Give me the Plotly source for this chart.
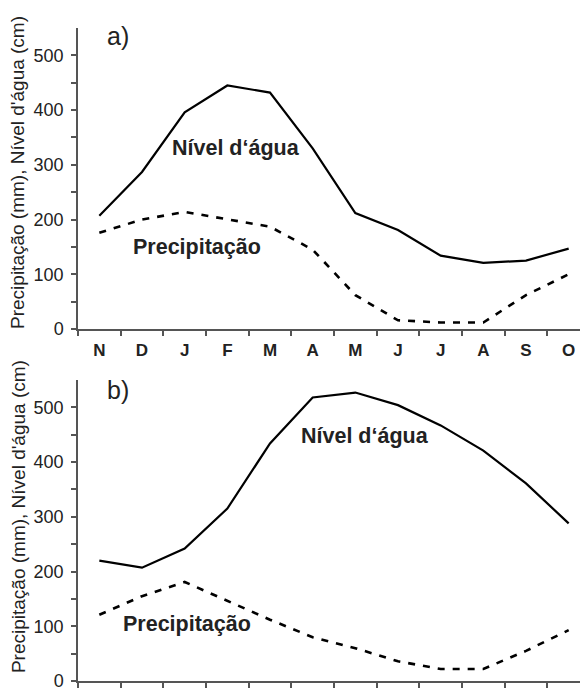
import plotly.graph_objects as go

months = ["N", "D", "J", "F", "M", "A", "M", "J", "J", "A", "S", "O"]
water_a = [207, 287, 396, 445, 432, 330, 212, 181, 134, 121, 125, 147]
precip_a = [176, 200, 214, 200, 187, 145, 62, 16, 12, 12, 62, 100]
water_b = [220, 207, 242, 315, 434, 518, 527, 504, 467, 421, 361, 288]
precip_b = [121, 155, 181, 147, 112, 80, 60, 36, 22, 22, 55, 93]
ytick_vals = [0, 50, 100, 150, 200, 250, 300, 350, 400, 450, 500]
ytick_text = ["0", "", "100", "", "200", "", "300", "", "400", "", "500"]

x = list(range(len(months)))
FONT = "Liberation Sans, Arial, sans-serif"
AX = "#555555"
TXT = "#222222"

fig = go.Figure()
solid = dict(color="black", width=2.2)
dashed = dict(color="black", width=2.6, dash="7px,8px")
fig.add_trace(go.Scatter(x=x, y=water_a, mode="lines", line=solid, xaxis="x", yaxis="y"))
fig.add_trace(go.Scatter(x=x, y=precip_a, mode="lines", line=dashed, xaxis="x", yaxis="y"))
fig.add_trace(go.Scatter(x=x, y=water_b, mode="lines", line=solid, xaxis="x2", yaxis="y2"))
fig.add_trace(go.Scatter(x=x, y=precip_b, mode="lines", line=dashed, xaxis="x2", yaxis="y2"))

xcommon = dict(
    range=[-0.5, 11.5], showgrid=False, zeroline=False, showline=True,
    linecolor=AX, linewidth=1.5, ticks="",
    minor=dict(tick0=0.5, dtick=1, ticks="outside", ticklen=5, tickwidth=1.5, tickcolor=AX),
)
ycommon = dict(
    range=[0, 550], showgrid=False, zeroline=False, showline=True,
    linecolor=AX, linewidth=1.5, ticks="outside", ticklen=5, tickwidth=1.5, tickcolor=AX,
    tickvals=ytick_vals, ticktext=ytick_text, ticklabelstandoff=4,
    tickfont=dict(family=FONT, size=18, color=TXT),
)

fig.update_layout(
    width=588, height=689,
    margin=dict(l=70, r=6, t=20, b=16, autoexpand=False),
    paper_bgcolor="white", plot_bgcolor="white",
    showlegend=False,
    xaxis=dict(**xcommon, domain=[0, 1], anchor="y",
               tickvals=x, ticktext=months, ticklabelstandoff=5,
               tickfont=dict(family=FONT, size=17, color=TXT, weight="bold")),
    yaxis=dict(**ycommon, domain=[0.539, 1], anchor="x"),
    xaxis2=dict(**xcommon, domain=[0, 1], anchor="y2", tickvals=x, showticklabels=False),
    yaxis2=dict(**ycommon, domain=[0, 0.461], anchor="x2"),
)

ann = []
title = "Precipitação (mm), Nível d'água (cm)"
for yc in (0.778, 0.251):
    ann.append(dict(text=title, xref="paper", yref="paper", x=0, y=yc, xshift=-60,
                    xanchor="center", yanchor="middle", textangle=-90, showarrow=False,
                    font=dict(family=FONT, size=19, color=TXT)))
ann += [
    dict(text="a)", xref="x", yref="y", x=0.44, y=535, showarrow=False,
         font=dict(family=FONT, size=25, color=TXT)),
    dict(text="Nível d‘água", xref="x", yref="y", x=3.2, y=330, showarrow=False,
         font=dict(family=FONT, size=21.5, color=TXT, weight="bold")),
    dict(text="Precipitação", xref="x", yref="y", x=2.29, y=150, showarrow=False,
         font=dict(family=FONT, size=21.5, color=TXT, weight="bold")),
    dict(text="b)", xref="x2", yref="y2", x=0.44, y=531, showarrow=False,
         font=dict(family=FONT, size=25, color=TXT)),
    dict(text="Nível d‘água", xref="x2", yref="y2", x=6.23, y=447, showarrow=False,
         font=dict(family=FONT, size=21.5, color=TXT, weight="bold")),
    dict(text="Precipitação", xref="x2", yref="y2", x=2.05, y=105, showarrow=False,
         font=dict(family=FONT, size=21.5, color=TXT, weight="bold")),
]
fig.update_layout(annotations=ann)

fig.write_html("out.html")
